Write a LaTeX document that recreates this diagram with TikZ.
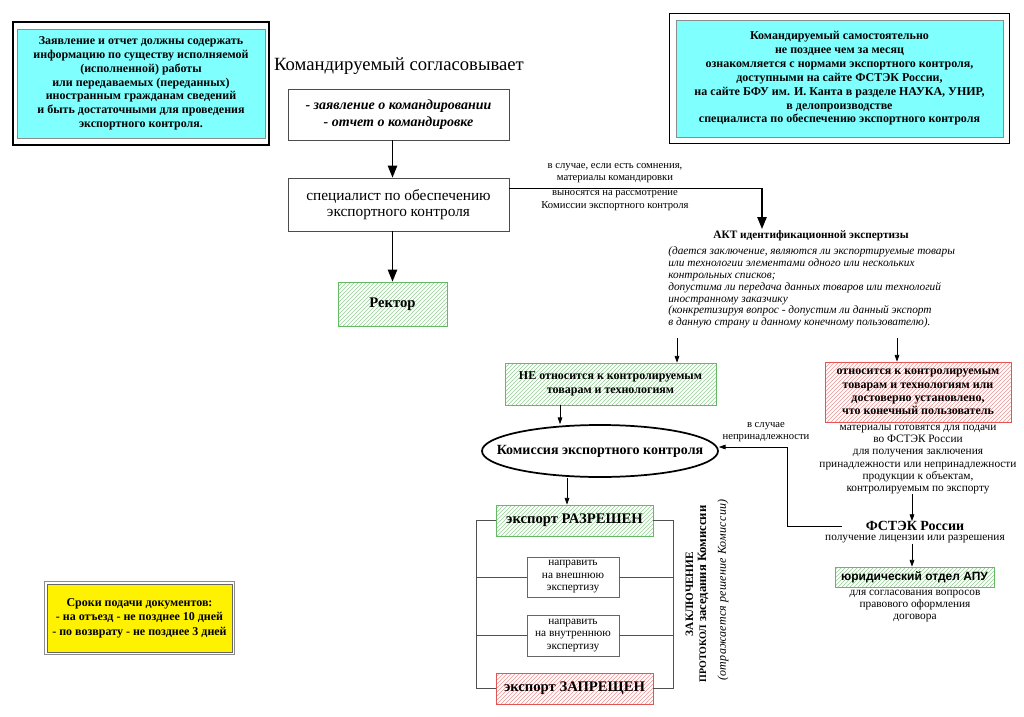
\documentclass[tikz,border=0pt]{standalone}
\usepackage{fontspec}
\setmainfont{Liberation Serif}
\newfontfamily\sansf{Liberation Sans}
\usetikzlibrary{shapes.geometric,patterns,arrows.meta,fit,calc}
\definecolor{cyanbox}{RGB}{128,255,255}
\definecolor{grnb}{RGB}{100,185,100}
\definecolor{grnh}{RGB}{150,205,150}
\definecolor{redb}{RGB}{225,85,85}
\definecolor{redh}{RGB}{240,150,150}
\definecolor{lineg}{RGB}{80,80,80}
\newcommand\fs[2]{\fontsize{#1}{#2}\selectfont}
\tikzset{
  cbox/.style={draw=black!45, line width=0.5pt, fill=cyanbox, align=center, inner sep=0pt},
  frame/.style={draw=black, line width=1.1pt},
  wbox/.style={draw=black!70, line width=0.6pt, fill=white, align=center, inner sep=0pt},
  gbox/.style={draw=grnb, line width=0.6pt, pattern=north east lines, pattern color=grnh, align=center, inner sep=0pt},
  rbox/.style={draw=redb, line width=0.6pt, pattern=north east lines, pattern color=redh, align=center, inner sep=0pt},
  txt/.style={align=center, inner sep=0pt},
  arrbig/.style={-{Triangle[width=7pt,length=9pt]}, line width=1.1pt},
  arrsmall/.style={-{Triangle[width=3.5pt,length=5pt]}, line width=0.5pt},
  gline/.style={draw=lineg, line width=0.6pt},
}
\begin{document}
\begin{tikzpicture}[x=0.75pt,y=-0.75pt]
\fill[white] (0,0) rectangle (1024,717);
\useasboundingbox (0,0) rectangle (1024,717);

% top left info box
\node[cbox, minimum width=186pt, minimum height=81.75pt, font=\bfseries\fs{9}{10.3}] (tl) at (141,83.5)
 {Заявление и отчет должны содержать\\информацию по существу исполняемой\\(исполненной) работы\\или передаваемых (переданных)\\иностранным гражданам сведений\\и быть достаточными для проведения\\экспортного контроля.};
\node[frame, fit=(tl), inner xsep=2.6pt, inner ysep=4.9pt] (tlf) {};

% top right info box
\node[cbox, minimum width=245.25pt, minimum height=87.75pt, font=\bfseries\fs{9}{10.4}] (tr) at (839.5,78.5)
 {Командируемый самостоятельно\\не позднее чем за месяц\\ознакомляется с нормами экспортного контроля,\\доступными на сайте ФСТЭК России,\\на сайте БФУ им. И. Канта в разделе НАУКА, УНИР,\\в делопроизводстве\\специалиста по обеспечению экспортного контроля};
\node[frame, fit=(tr), inner sep=4.7pt] (trf) {};

% heading
\node[txt, font=\fs{14}{16}] (head) at (399,66) {Командируемый согласовывает};

% boxes
\node[wbox, minimum width=165.75pt, minimum height=38.25pt, font=\bfseries\itshape\fs{10.5}{12.5}] (kom) at (398.5,114.5)
 {- заявление о командировании\\- отчет о командировке};
\node[wbox, minimum width=165.75pt, minimum height=39.75pt, font=\fs{11.5}{12.5}] (spec) at (398.5,204.5)
 {специалист по обеспечению\\экспортного контроля};
\node[gbox, minimum width=81.75pt, minimum height=33pt, font=\bfseries\fs{11}{13}] (rector) at (392.5,304) {Ректор};

\draw[arrbig] (kom.south -| rector.center) -- (spec.north -| rector.center);
\draw[arrbig] (spec.south -| rector.center) -- (rector.north);

% connector to AKT
\coordinate (aktin) at (762,229);
\draw[arrbig] ([yshift=12pt]spec.east) -| (aktin);
\node[txt, font=\fs{8}{9}] (lab1) at (615,173) {в случае, если есть сомнения,\\материалы командировки};
\node[txt, font=\fs{8}{9.6}] (lab2) at (615,200.5) {выносятся на рассмотрение\\Комиссии экспортного контроля};

% AKT
\node[txt, font=\bfseries\fs{8.5}{10}] (akt) at (811,236) {АКТ идентификационной экспертизы};
\node[anchor=north west, align=left, inner sep=0pt, font=\itshape\fs{8.5}{8.9}] (aktbody) at (668,246.5)
 {(дается заключение, являются ли экспортируемые товары\\или технологии элементами одного или нескольких\\контрольных списков;\\допустима ли передача данных товаров или технологий\\иностранному заказчику\\(конкретизируя вопрос - допустим ли данный экспорт\\в данную страну и данному конечному пользователю).};

\node[gbox, minimum width=158.25pt, minimum height=31.5pt, font=\bfseries\fs{9}{10.5}] (ne) at (610.5,384)
 {НЕ относится к контролируемым\\товарам и технологиям};
\node[rbox, minimum width=139.5pt, minimum height=45pt, font=\bfseries\fs{9}{10.1}] (red) at (918,392)
 {относится к контролируемым\\товарам и технологиям или\\достоверно установлено,\\что конечный пользователь};

\coordinate (akl) at (677,338);
\coordinate (akr) at (897,338);
\draw[arrsmall] (akl) -- (akl |- ne.north);
\draw[arrsmall] (akr) -- (akr |- red.north);

% commission
\node[draw=black, line width=1.3pt, ellipse, minimum width=177pt, minimum height=39pt, inner sep=0pt,
  label={[font=\bfseries\fs{10.5}{12}, inner sep=0pt]center:Комиссия экспортного контроля}] (ell) at (600,451) {};
\coordinate (nx) at (560,0);
\draw[arrsmall] (ne.south -| nx) -- (ell.north -| nx);

\node[txt, font=\fs{8}{9}] (nepr) at (766,432) {в случае\\непринадлежности};

% materials text
\node[txt, font=\fs{8.5}{9.2}] (mat) at (918,459.5)
 {материалы готовятся для подачи\\во ФСТЭК России\\для получения заключения\\принадлежности или непринадлежности\\продукции к объектам,\\контролируемым по экспорту};

\node[txt, minimum width=109.5pt, font=\bfseries\fs{10.5}{12}] (fstek) at (915,526) {ФСТЭК России};
\node[txt, font=\fs{8.5}{10}] (fsub) at (915,539.5) {получение лицензии или разрешения};
\coordinate (fx) at (912,0);
\draw[arrsmall] (mat.south -| fx) -- (fstek.north -| fx);

\coordinate (cx) at (787,0);
\draw[arrsmall] (fstek.west) -- (fstek.west -| cx) |- ([yshift=3pt]ell.east);

\node[gbox, minimum width=119.25pt, minimum height=15pt, font=\sansf\bfseries\fs{9}{10}] (jur) at (914.5,577) {юридический отдел АПУ};
\draw[arrsmall] (fsub.south -| fx) -- (jur.north -| fx);
\node[txt, font=\fs{8.5}{9}] (jursub) at (915,606) {для согласования вопросов\\правового оформления\\договора};

% decisions
\node[gbox, minimum width=117.75pt, minimum height=23.25pt, font=\bfseries\fs{11}{13}] (raz) at (574.5,520.5) {экспорт РАЗРЕШЕН};
\node[wbox, draw=black!60, minimum width=69pt, minimum height=30pt, font=\fs{8.5}{9.4}] (vn) at (573,577) {направить\\на внешнюю\\экспертизу};
\node[wbox, draw=black!60, minimum width=69pt, minimum height=30.75pt, font=\fs{8.5}{9.4}] (vt) at (573,635.5) {направить\\на внутреннюю\\экспертизу};
\node[rbox, minimum width=117.75pt, minimum height=23.25pt, font=\bfseries\fs{11}{13}] (zap) at (574.5,688.5) {экспорт ЗАПРЕЩЕН};

\coordinate (ex) at (567,0);
\draw[arrsmall] (ell.south -| ex) -- (raz.north -| ex);

\coordinate (lx) at (476,0);
\coordinate (rx) at (673,0);
\draw[gline] (raz.west) -- (raz.west -| lx) -- (zap.west -| lx) -- (zap.west);
\draw[gline] (vn.west) -- (vn.west -| lx);
\draw[gline] (vt.west) -- (vt.west -| lx);
\draw[gline] (raz.east) -- (raz.east -| rx) -- (zap.east -| rx) -- (zap.east);
\draw[gline] (vn.east) -- (vn.east -| rx);
\draw[gline] (vt.east) -- (vt.east -| rx);

\node[txt, rotate=90, font=\bfseries\fs{9}{9.75}] (concl) at (697,594)
 {{\fs{8.5}{9.75}ЗАКЛЮЧЕНИЕ}\\{\fs{7.5}{9.75}ПРОТОКОЛ} {\fs{9.5}{9.75}заседания Комиссии}};
\node[txt, rotate=90, font=\itshape\fs{9}{10}] (concl2) at (723,590)
 {\addfontfeature{LetterSpace=2}(отражается решение Комиссии)};

% yellow box
\node[draw=black!60, line width=0.5pt, fill=yellow, align=center, inner sep=0pt, minimum width=138.75pt, minimum height=51pt, font=\bfseries\fs{9}{10.9}] (yel) at (139.5,618)
 {Сроки подачи документов:\\- на отъезд - не позднее 10 дней\\- по возврату - не позднее 3 дней};
\node[draw=black!45, line width=0.6pt, fit=(yel), inner sep=1.8pt] (yelf) {};
\end{tikzpicture}
\end{document}
